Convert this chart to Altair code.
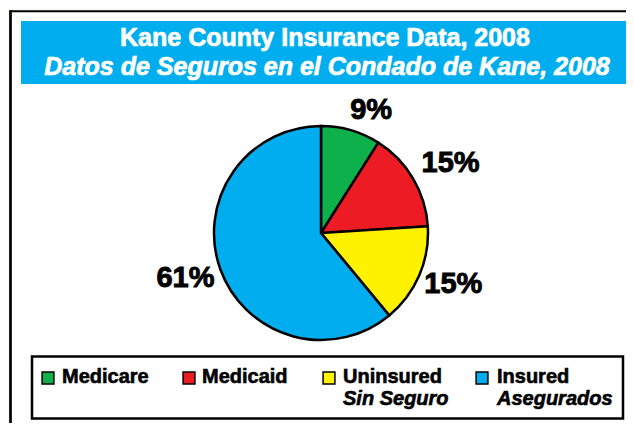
import altair as alt
import pandas as pd

# ---- data ----
categories = ["Medicare", "Medicaid", "Uninsured", "Insured"]
values = [9, 15, 15, 61]
pct_labels = ["9%", "15%", "15%", "61%"]
legend_line1 = ["Medicare", "Medicaid", "Uninsured", "Insured"]
legend_line2 = ["", "", "Sin Seguro", "Asegurados"]
colors = ["#0DB04B", "#ED1C24", "#FFF200", "#00AEEF"]
title_line1 = "Kane County Insurance Data, 2008"
title_line2 = "Datos de Seguros en el Condado de Kane, 2008"

df = pd.DataFrame({
    "category": categories,
    "value": values,
    "label": pct_labels,
    "line1": legend_line1,
    "line2": legend_line2,
    "order": list(range(len(categories))),
})

FONT = "Liberation Sans"
W, H = 618, 415
CX, CY, R = 313, 223, 107

color_scale = alt.Scale(domain=categories, range=colors)
base = alt.Chart(df)
one = alt.Chart(pd.DataFrame({"k": [0]}))

layers = []

# interior white panel and frame
layers.append(one.mark_rect(color="white").encode(
    x=alt.value(2.5), x2=alt.value(W), y=alt.value(1.5), y2=alt.value(H)))
layers.append(one.mark_rule(color="black", strokeWidth=2).encode(
    x=alt.value(1.5), x2=alt.value(W), y=alt.value(1.3), y2=alt.value(1.3)))
layers.append(one.mark_rule(color="black", strokeWidth=2.7).encode(
    x=alt.value(2.5), x2=alt.value(2.5), y=alt.value(0.3), y2=alt.value(H)))

# header
layers.append(one.mark_rect(color="#00AEEF").encode(
    x=alt.value(13), x2=alt.value(W), y=alt.value(11), y2=alt.value(74)))
layers.append(alt.Chart(pd.DataFrame({"t": [title_line1]})).mark_text(
    font=FONT, fontSize=25, fontWeight="bold", color="white",
    stroke="white", strokeWidth=0.7,
    align="center", baseline="alphabetic").encode(
    text="t:N", x=alt.value(317), y=alt.value(36)))
layers.append(alt.Chart(pd.DataFrame({"t": [title_line2]})).mark_text(
    font=FONT, fontSize=25, fontWeight="bold", fontStyle="italic", color="white",
    stroke="white", strokeWidth=0.7,
    align="center", baseline="alphabetic").encode(
    text="t:N", x=alt.value(319), y=alt.value(65)))

# pie
layers.append(base.mark_arc(stroke="black", strokeWidth=2.5, radius=R).encode(
    theta=alt.Theta("value:Q", stack=True),
    color=alt.Color("category:N", scale=color_scale, legend=None),
    order=alt.Order("order:Q"),
    x=alt.value(CX), y=alt.value(CY)))

# percentage labels (one layer per label for fine placement)
label_style = {
    "Medicare": (133, 13, 5),
    "Medicaid": (147, 3, 5),
    "Uninsured": (142, 2, -5),
    "Insured": (143, -1, -3),
}
for cat in categories:
    rad, dx, dy = label_style[cat]
    layers.append(base.mark_text(
        font=FONT, fontSize=29, fontWeight="bold", color="black",
        stroke="black", strokeWidth=0.9,
        radius=rad, dx=dx, dy=dy, align="center", baseline="middle").encode(
        theta=alt.Theta("value:Q", stack=True),
        order=alt.Order("order:Q"),
        text="label:N",
        opacity=alt.condition(alt.datum.category == cat, alt.value(1), alt.value(0)),
        strokeOpacity=alt.condition(alt.datum.category == cat, alt.value(1), alt.value(0)),
        x=alt.value(CX), y=alt.value(CY)))

# legend box
layers.append(one.mark_rect(fill="white", stroke="black", strokeWidth=2.5).encode(
    x=alt.value(24), x2=alt.value(615), y=alt.value(346.5), y2=alt.value(408.5)))

sq_x = {"Medicare": 40, "Medicaid": 181, "Uninsured": 321, "Insured": 474}
tx_x = {"Medicare": 54, "Medicaid": 194, "Uninsured": 335, "Insured": 489}
for cat in categories:
    sub = base.transform_filter(alt.datum.category == cat)
    layers.append(sub.mark_square(size=140, stroke="black", strokeWidth=1.5, opacity=1).encode(
        color=alt.Color("category:N", scale=color_scale, legend=None),
        x=alt.value(sq_x[cat]), y=alt.value(368)))
    layers.append(sub.mark_text(
        font=FONT, fontSize=20, fontWeight="bold", color="black",
        stroke="black", strokeWidth=0.6,
        align="left", baseline="alphabetic").encode(
        text="line1:N", x=alt.value(tx_x[cat]), y=alt.value(373)))
    layers.append(sub.mark_text(
        font=FONT, fontSize=20, fontWeight="bold", fontStyle="italic", color="black",
        stroke="black", strokeWidth=0.6,
        align="left", baseline="alphabetic").encode(
        text="line2:N", x=alt.value(tx_x[cat]), y=alt.value(395)))

chart = alt.layer(*layers).properties(
    width=W, height=H, padding=0, background="#FCFAF4",
    autosize=alt.AutoSizeParams(type="fit", contains="padding"),
).configure_view(stroke=None)

chart.save("out.html", embed_options={"renderer": "svg", "actions": False})
